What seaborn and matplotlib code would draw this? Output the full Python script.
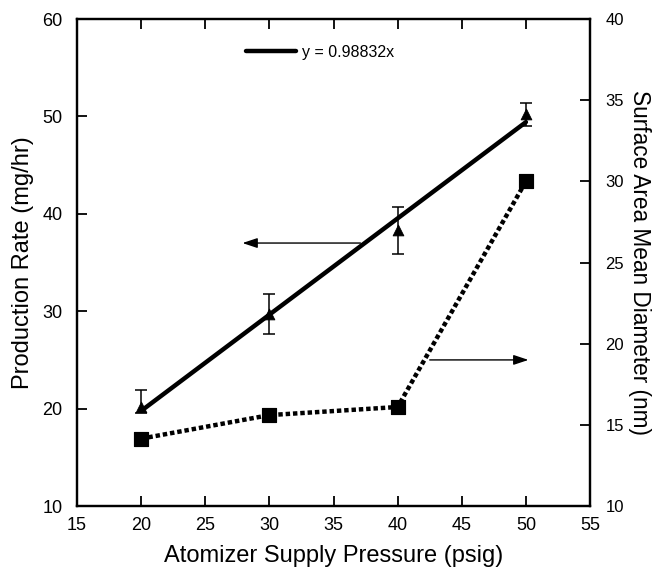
import numpy as np
import pandas as pd
import matplotlib
matplotlib.use("Agg")
import matplotlib.pyplot as plt
import seaborn as sns

# data
pressure = [20, 30, 40, 50]
production = [20.2, 29.7, 38.3, 50.2]
prod_err_lo = [0.6, 2.0, 2.4, 1.2]
prod_err_hi = [1.7, 2.1, 2.4, 1.2]
diameter = [14.15, 15.6, 16.1, 30.0]
slope = 0.98832

sns.set_style("ticks", {"axes.edgecolor": "black", "text.color": "black",
                        "axes.labelcolor": "black", "xtick.color": "black",
                        "ytick.color": "black"})
plt.rcParams["font.family"] = ["Liberation Sans", "DejaVu Sans"]

fig = plt.figure(figsize=(6.55, 5.73), dpi=100)
ax = fig.add_axes([0.1176, 0.1169, 0.7832, 0.8499])
ax2 = ax.twinx()

df = pd.DataFrame({"pressure": pressure, "production": production, "diameter": diameter})
fit = pd.DataFrame({"pressure": [pressure[0], pressure[-1]]})
fit["y"] = slope * fit["pressure"]

# production rate: fit line + triangles with error bars
sns.lineplot(data=fit, x="pressure", y="y", ax=ax, color="black", lw=3.2,
             label="y = 0.98832x", zorder=3)
ax.errorbar(pressure, production, yerr=[prod_err_lo, prod_err_hi], fmt="none",
            ecolor="black", elinewidth=1.1, capsize=4, capthick=1.1, zorder=2)
sns.scatterplot(data=df, x="pressure", y="production", ax=ax, marker="^",
                s=60, color="black", edgecolor="black", zorder=4, legend=False)

# diameter: dotted line + squares on right axis
sns.lineplot(data=df, x="pressure", y="diameter", ax=ax2, color="black", lw=3.2,
             dashes=False, legend=False)
ax2.lines[-1].set_linestyle((0, (1, 0.65)))
ax2.lines[-1].set_dash_capstyle("butt")
sns.scatterplot(data=df, x="pressure", y="diameter", ax=ax2, marker="s",
                s=110, color="black", edgecolor="black", zorder=4, legend=False)

ax.set_xlim(15, 55)
ax.set_ylim(10, 60)
ax.set_xticks(np.arange(15, 56, 5))
ax.set_yticks(np.arange(10, 61, 10))
ax2.set_ylim(10, 40)
ax2.set_yticks(np.arange(10, 41, 5))

ax.set_xlabel("Atomizer Supply Pressure (psig)", fontsize=17, labelpad=8)
ax.set_ylabel("Production Rate (mg/hr)", fontsize=17, labelpad=6)
ax2.set_ylabel("Surface Area Mean Diameter (nm)", fontsize=16.3, rotation=-90,
               va="center", ha="center")
ax2.yaxis.set_label_coords(1.097, 0.5)

for a in (ax, ax2):
    for sp in a.spines.values():
        sp.set_linewidth(1.6)
        sp.set_color("black")
        sp.set_visible(True)
    a.tick_params(direction="in", length=7, width=1.3, labelsize=13,
                  colors="black")
ax.tick_params(axis="x", top=True, pad=8)
ax.tick_params(axis="y", right=False, pad=10.5)
ax2.tick_params(axis="y", left=False, pad=11, labelsize=12)

# arrows indicating axes
ax.annotate("", xy=(27.9, 37.0), xytext=(37.1, 37.0),
            arrowprops=dict(arrowstyle="-|>,head_length=0.9,head_width=0.3", lw=1.0,
                            color="black", shrinkA=0, shrinkB=0))
ax2.annotate("", xy=(50.2, 19.0), xytext=(42.5, 19.0),
             arrowprops=dict(arrowstyle="-|>,head_length=0.9,head_width=0.3", lw=1.0,
                             color="black", shrinkA=0, shrinkB=0))

ax.legend(loc="center left", bbox_to_anchor=(0.33, 0.932), frameon=False,
          fontsize=11.5, handlelength=3.1, handletextpad=0.4, borderpad=0,
          borderaxespad=0)

fig.savefig("out.png", dpi=100)
